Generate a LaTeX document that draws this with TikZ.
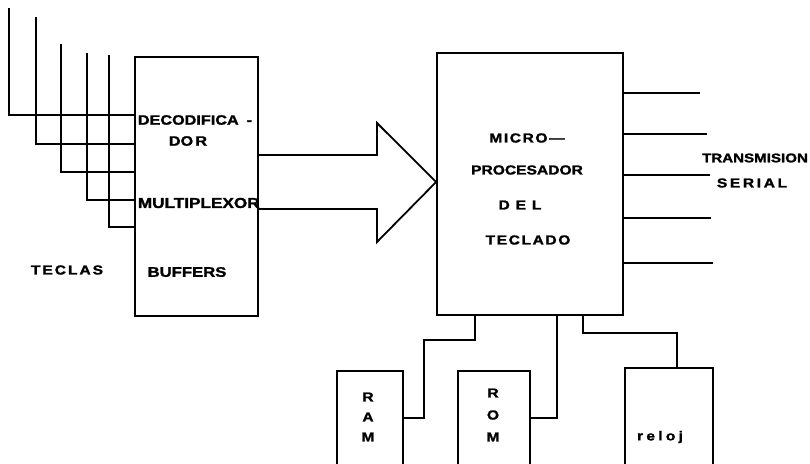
\documentclass[tikz,border=0pt]{standalone}
\usepackage{fontspec}
\setmainfont{Liberation Sans}[FakeStretch=1.2,FakeBold=1.6]
\usetikzlibrary{positioning,calc}

\newcommand{\lblfont}[1]{\fontsize{#1}{#1}\selectfont\bfseries}

\begin{document}
\begin{tikzpicture}[x=1pt,y=-1pt,line width=1.8pt,
  blk/.style={draw,line width=1.8pt,inner sep=0pt},
  lbl/.style={inner sep=0pt,font=\lblfont{13}},
  wide/.style={inner sep=0pt,font=\lblfont{13}\addfontfeature{LetterSpace=#1}}]
\useasboundingbox (0,0) rectangle (810,463);
\clip (0,0) rectangle (810,463);
% blocks
\node[blk,minimum width=123,minimum height=259] (buf) at (196.5,186.5) {};
\node[blk,minimum width=186,minimum height=262] (mpu) at (530,184) {};
\node[blk,minimum width=66,minimum height=94] (ram) at (370,418) {};
\node[blk,minimum width=72,minimum height=94] (rom) at (494,418) {};
\node[blk,minimum width=88,minimum height=100] (reloj) at (669,418) {};
% keyboard lines
\foreach \k/\x/\y/\yb in {1/9/8/115,2/36/17/144,3/61/44/172,4/87/53/200,5/109/55/227}{
  \coordinate (k\k) at (\x,\y);
  \draw (k\k) |- (buf.west |- 0,\yb);
}
% wide arrow
\draw[line join=miter] (buf.east |- 0,155) -- (377,155) -- (377,123) -- (mpu.west |- 0,182)
  -- (377,242) -- (377,209) -- (buf.east |- 0,209);
% serial outputs
\foreach \i/\y/\xe in {1/93/700,2/134/707,3/175/710,4/218/711,5/263/713}{
  \coordinate (s\i) at (\xe,\y);
  \draw (mpu.east |- s\i) -- (s\i);
}
% memory and clock
\draw (mpu.south -| 475,0) |- (424,340) |- (ram.east);
\draw (mpu.south -| 557,0) |- (rom.east);
\draw (mpu.south -| 583,0) |- (677,333) -- (reloj.north -| 677,0);
% labels
\node[lbl,font=\lblfont{13.5},anchor=west] (dec) at (137,120) {DECODIFICA\hspace{8pt}-};
\node[lbl,font=\lblfont{13.5}] (dor) at (188,141) {DO\,R};
\node[lbl,font=\lblfont{14.3},anchor=west] (mux) at (137,203) {MULTIPLEXOR};
\node[lbl,font=\lblfont{13.9}] (bfr) at (187,272) {BUFFERS};
\node[wide=15] (tec) at (67,270) {TECLAS};
\node[wide=12] (mic) at (527,138) {MICRO—};
\node[lbl] (pro) at (527,170) {PROCESADOR};
\node[wide=45] (del) at (520,205) {DEL};
\node[wide=12] (tcl) at (528,240) {TECLADO};
\node[lbl,font=\lblfont{12.6}] (trn) at (755,158) {TRANSMISION};
\node[wide=20] (ser) at (752,183) {SERIAL};
\node[lbl,font=\fontsize{13}{20}\selectfont\bfseries,align=center] (ramt) at (368,417) {R\\A\\M};
\node[lbl,font=\fontsize{13}{22}\selectfont\bfseries,align=center] (romt) at (493,415) {R\\O\\M};
\node[wide=25] (relt) at (660,437) {reloj};
\end{tikzpicture}
\end{document}
